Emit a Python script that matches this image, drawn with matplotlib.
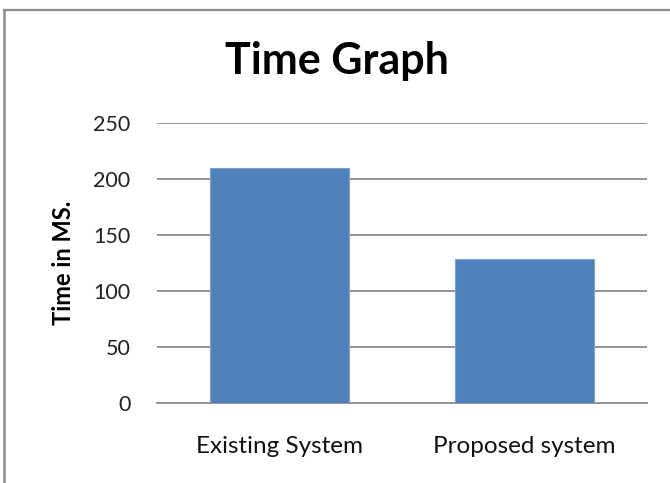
import matplotlib
matplotlib.use("Agg")
import matplotlib.pyplot as plt
from matplotlib.lines import Line2D

categories = ["Existing System", "Proposed system"]
times_ms = [210, 129]
y_ticks = [0, 50, 100, 150, 200, 250]

plt.rcParams["font.family"] = ["Lato", "DejaVu Sans"]

fig = plt.figure(figsize=(6.70, 4.83), dpi=100)
W, H = 670, 483

# outer chart frame (top and left edges)
fig.add_artist(Line2D([4 / W, 1.0], [1 - 10 / H, 1 - 10 / H], color="#8c8c8c", lw=1.6,
                      transform=fig.transFigure))
fig.add_artist(Line2D([4 / W, 4 / W], [0.0, 1 - 10 / H], color="#8c8c8c", lw=1.8,
                      transform=fig.transFigure))

left, right, top, bottom = 157, 647, 123, 403
ax = fig.add_axes([left / W, 1 - bottom / H, (right - left) / W, (bottom - top) / H])

x = range(len(categories))
ax.bar(x, times_ms, width=0.57, color="#4F81BD", edgecolor="#7FA1CC", linewidth=0.8, zorder=3)

ax.set_xlim(-0.5, 1.5)
ax.set_ylim(0, 250)
ax.set_yticks(y_ticks)
ax.set_yticklabels([str(v) for v in y_ticks])
ax.set_xticks(list(x))
ax.set_xticklabels(categories)

for v in y_ticks[1:]:
    ax.axhline(v, color="#8a8a8a", lw=1.3, zorder=1)

for s in ["top", "right", "left"]:
    ax.spines[s].set_visible(False)
ax.spines["bottom"].set_color("#8a8a8a")
ax.spines["bottom"].set_linewidth(1.3)

ax.tick_params(axis="y", length=0, pad=19, labelsize=15.5, labelcolor="#222222")
ax.tick_params(axis="x", length=0, pad=24, labelsize=17.5, labelcolor="#111111")

ax.set_ylabel("Time in MS.", fontsize=17, fontweight="bold", labelpad=13)
fig.text(337 / W, 1 - 61 / H, "Time Graph", fontsize=31, fontweight="bold",
         ha="center", va="center")

fig.savefig("out.png", dpi=100, facecolor="white")
